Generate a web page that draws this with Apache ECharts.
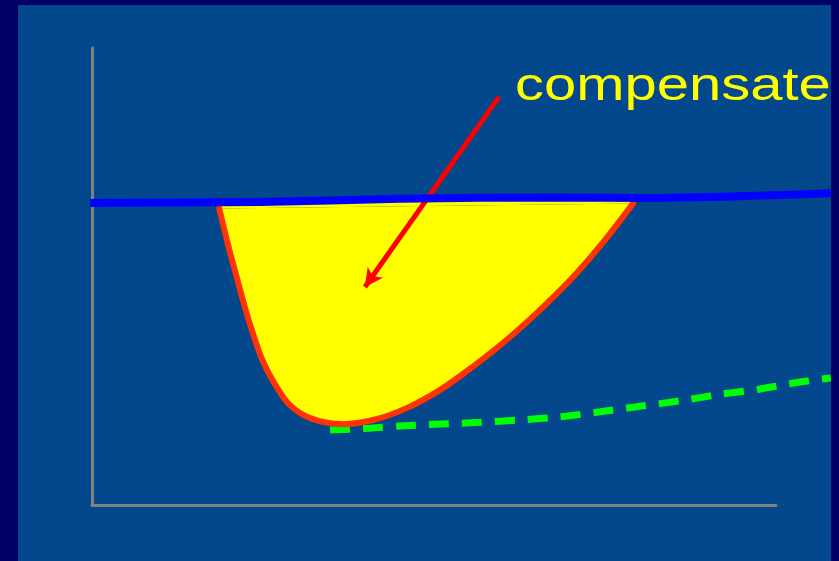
<!DOCTYPE html>
<html>
<head>
<meta charset="utf-8">
<script src="https://cdn.jsdelivr.net/npm/echarts@6/dist/echarts.min.js"></script>
<style>
  html, body { margin: 0; padding: 0; background: #000066; }
  #main { width: 839px; height: 561px; }
</style>
</head>
<body>
<div id="main"></div>
<script>
// values in axis units: x 0..100 along the drawn axis, y 0..100
var curveX = [18.6, 19.9, 21.2, 22.4, 23.6, 25.0, 26.8, 28.9, 31.9, 36.3, 41.1, 46.0, 50.9, 55.7, 60.6, 65.5, 70.4, 75.1, 79.1];
var curveY = [64.9, 56.9, 49.6, 43.0, 37.2, 31.4, 26.3, 21.9, 19.0, 17.7, 18.6, 21.2, 25.2, 30.3, 36.1, 42.7, 50.0, 58.2, 66.0];
// upper edge of the yellow area (under the blue line)
var topX = [18.6, 45.0, 79.1];
var topY = [66.2, 66.8, 67.2];

var baseX = [-0.3, 24.6, 45.0, 68.4, 80.1, 97.7, 108.0];
var baseY = [66.1, 66.3, 67.0, 67.3, 67.2, 67.7, 68.2];

var dashX = [34.8, 40.6, 45.0, 50.9, 56.7, 62.6, 68.4, 74.3, 80.1, 86.0, 91.8, 97.7, 103.5, 108.0];
var dashY = [16.4, 16.8, 17.3, 17.7, 18.1, 18.6, 19.3, 20.4, 21.6, 22.8, 24.2, 25.4, 26.9, 27.8];

var arrowFrom = [59.5, 89.3];
var arrowTo = [39.9, 47.7];
var label = 'compensate';

function zip(xs, ys) {
    return xs.map(function (x, i) { return [x, ys[i]]; });
}

var myChart = echarts.init(document.getElementById('main'));

var hidden = { show: false };
var greyLine = { show: true, lineStyle: { color: '#808080', width: 3 } };

var option = {
    animation: false,
    backgroundColor: '#000066',
    grid: [
        // grid 0: only the two grey axis lines
        { left: 92, right: 63, top: 48, bottom: 56 },
        // grid 1: same scale, reaching the panel edge so the lines run on
        { left: 88.58, right: 8, top: 48, bottom: 56 }
    ],
    xAxis: [
        { type: 'value', gridIndex: 0, min: 0, max: 100,
          axisLine: greyLine, axisTick: hidden, axisLabel: hidden, splitLine: hidden },
        { type: 'value', gridIndex: 1, min: -0.5, max: 108.04,
          axisLine: hidden, axisTick: hidden, axisLabel: hidden, splitLine: hidden }
    ],
    yAxis: [
        { type: 'value', gridIndex: 0, min: 0, max: 100,
          axisLine: greyLine, axisTick: hidden, axisLabel: hidden, splitLine: hidden },
        { type: 'value', gridIndex: 1, min: 0, max: 100,
          axisLine: hidden, axisTick: hidden, axisLabel: hidden, splitLine: hidden }
    ],
    series: [
        {
            name: 'dashed',
            type: 'line',
            xAxisIndex: 1, yAxisIndex: 1,
            z: 3,
            smooth: 0.3,
            showSymbol: false,
            data: zip(dashX, dashY),
            lineStyle: { color: '#00FF00', width: 7, type: [20, 13], cap: 'butt' }
        },
        {
            // yellow area with the red curve as its lower edge
            name: 'gap',
            type: 'custom',
            xAxisIndex: 1, yAxisIndex: 1,
            z: 4,
            data: [[curveX[0], curveY[0]]],
            renderItem: function (params, api) {
                var curve = zip(curveX, curveY).map(function (p) { return api.coord(p); });
                var top = zip(topX, topY).map(function (p) { return api.coord(p); });
                var sliver = [curve[0]].concat(top, [curve[curve.length - 1]]);
                return {
                    type: 'group',
                    children: [
                        { type: 'polygon', shape: { points: sliver }, style: { fill: '#FFFF00' } },
                        { type: 'polyline', shape: { points: curve, smooth: 0.35 },
                          style: { fill: '#FFFF00', stroke: '#FF3300', lineWidth: 6, lineCap: 'round' } }
                    ]
                };
            }
        },
        {
            name: 'base',
            type: 'line',
            xAxisIndex: 1, yAxisIndex: 1,
            z: 6,
            smooth: 0.3,
            showSymbol: false,
            data: zip(baseX, baseY),
            lineStyle: { color: '#0000FF', width: 8 }
        },
        {
            name: 'arrow',
            type: 'line',
            xAxisIndex: 1, yAxisIndex: 1,
            z: 8,
            data: [],
            markLine: {
                silent: true,
                symbol: ['none', 'arrow'],
                symbolSize: [14, 18],
                label: { show: false },
                lineStyle: { color: '#FF0000', width: 5, type: 'solid' },
                data: [[{ coord: arrowFrom }, { coord: arrowTo }]]
            }
        }
    ],
    graphic: [
        {
            // slide panel
            type: 'rect',
            z: -10,
            shape: { x: 18, y: 5, width: 813, height: 556 },
            style: { fill: '#03478C' }
        },
        {
            type: 'text',
            x: 515,
            y: 87,
            scaleX: 1.26,
            z: 100,
            style: {
                text: label,
                fill: '#FFFF00',
                fontSize: 46,
                fontFamily: '"Liberation Sans", Arial, sans-serif',
                align: 'left',
                verticalAlign: 'middle'
            }
        },
        {
            // dark frame on the right, over anything running past the panel
            type: 'rect',
            z: 200,
            shape: { x: 831, y: 0, width: 8, height: 561 },
            style: { fill: '#000066' }
        }
    ]
};

myChart.setOption(option);
</script>
</body>
</html>
